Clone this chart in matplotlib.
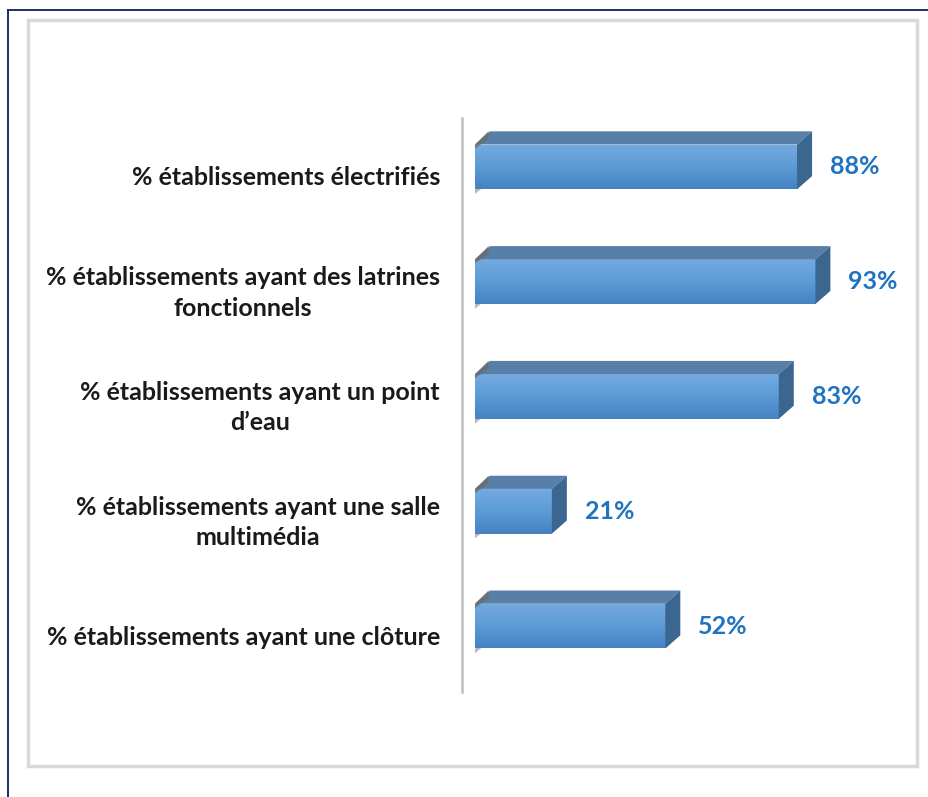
import numpy as np
import matplotlib.pyplot as plt
from matplotlib.patches import Polygon, Rectangle
from matplotlib.colors import LinearSegmentedColormap
from matplotlib.lines import Line2D

# indicateurs d'équipement des établissements (%)
categories = [
    "% établissements électrifiés",
    "% établissements ayant des latrines\nfonctionnels",
    "% établissements ayant un point\nd\u2019eau",
    "% établissements ayant une salle\nmultimédia",
    "% établissements ayant une clôture",
]
valeurs = [88, 93, 83, 21, 52]
etiquettes = ["88%", "93%", "83%", "21%", "52%"]

plt.rcParams["font.family"] = ["Lato", "DejaVu Sans"]

fig = plt.figure(figsize=(9.29, 7.97), dpi=100)

# cadres autour du graphique
fig.add_artist(Line2D([8 / 929, 1], [1 - 10 / 797, 1 - 10 / 797],
                      transform=fig.transFigure, color="#1F2D6E", lw=1.4))
fig.add_artist(Line2D([8 / 929, 8 / 929], [0, 1 - 10 / 797],
                      transform=fig.transFigure, color="#1F2D6E", lw=1.4))
fig.add_artist(Rectangle((28 / 929, 1 - 766 / 797), (917 - 28) / 929, (766 - 20) / 797,
                         transform=fig.transFigure, fill=False,
                         edgecolor="#D9D9D9", lw=2.5))

ax = fig.add_axes([462 / 929, 105 / 797, 379 / 929, 574 / 797])

prof_x = 4.1    # profondeur 3D en % (horizontal)
prof_y = 0.115  # profondeur 3D en unités de catégorie (vertical)
h = 0.39

y = np.arange(len(valeurs))
bars = ax.barh(y, valeurs, height=h, color="#5B9BD5", edgecolor="none", zorder=3)

degrade = LinearSegmentedColormap.from_list("face", ["#74AAE0", "#5B9BD5", "#4682C2"])
grad = np.linspace(0, 1, 64).reshape(-1, 1)

for i, (b, v) in enumerate(zip(bars, valeurs)):
    y0, y1 = i - h / 2, i + h / 2
    # face avant en dégradé
    im = ax.imshow(grad, cmap=degrade, aspect="auto",
                   extent=(0, v, y1, y0), zorder=4, interpolation="bicubic")
    im.set_clip_path(b)
    # face supérieure
    ax.add_patch(Polygon([(0, y0), (prof_x, y0 - prof_y), (v + prof_x, y0 - prof_y), (v, y0)],
                         closed=True, facecolor="#587FA8", edgecolor="none", zorder=4))
    # face latérale
    ax.add_patch(Polygon([(v, y0), (v + prof_x, y0 - prof_y), (v + prof_x, y1 - prof_y), (v, y1)],
                         closed=True, facecolor="#3B6690", edgecolor="none", zorder=4))
    # ombre à gauche
    ax.add_patch(Polygon([(0, y0), (prof_x * 0.9, y0 - prof_y), (prof_x * 0.9, y0 - prof_y * 0.4),
                          (0, y0 + prof_y * 0.3)],
                         closed=True, facecolor="#6A6A6A", edgecolor="none", zorder=5, alpha=0.8))
    ax.add_patch(Polygon([(0, y1), (prof_x * 0.6, y1 - prof_y * 0.2), (0, y1 + prof_y * 0.35)],
                         closed=True, facecolor="#9A9A9A", edgecolor="none", zorder=2, alpha=0.7))

    ax.annotate(etiquettes[i], xy=(v, i), xytext=(33, 0), textcoords="offset pixels",
                ha="left", va="center", fontsize=18, fontweight="bold",
                color="#1F73C1", annotation_clip=False)
    ax.annotate(categories[i], xy=(0, i), xycoords=("axes fraction", "data"),
                xytext=(-22, -11), textcoords="offset pixels",
                ha="right", va="center", multialignment="center",
                fontsize=18, fontweight="bold", color="#1A1A1A",
                linespacing=1.4, annotation_clip=False)

ax.set_xlim(-3.55, 100)
ax.set_ylim(len(valeurs) - 0.426, -0.426)
ax.set_xticks([])
ax.set_yticks([])
for s in ["top", "right", "bottom"]:
    ax.spines[s].set_visible(False)
ax.spines["left"].set_color("#BFBFBF")
ax.spines["left"].set_linewidth(1.8)
ax.patch.set_alpha(0)

fig.savefig("out.png", dpi=100)
